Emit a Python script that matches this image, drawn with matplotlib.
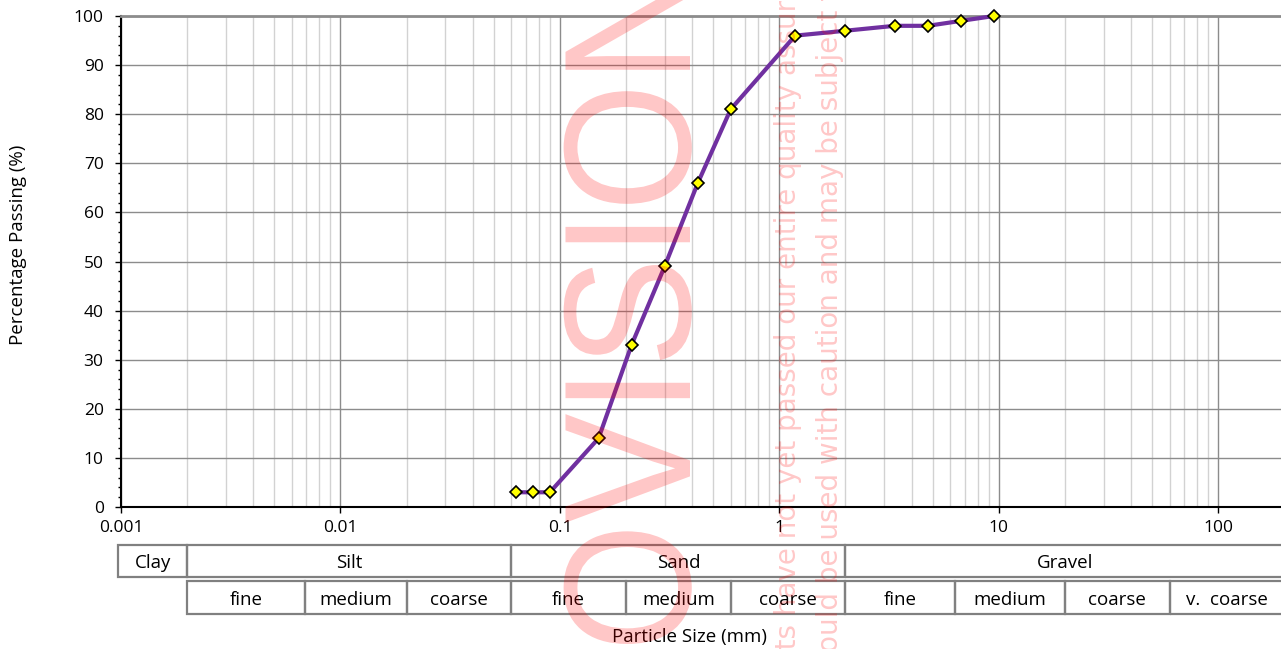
import numpy as np
import matplotlib
matplotlib.use("Agg")
import matplotlib.pyplot as plt
from matplotlib.patches import Rectangle, PathPatch
from matplotlib.textpath import TextPath
from matplotlib.font_manager import FontProperties
from matplotlib.transforms import Affine2D, IdentityTransform
from matplotlib.ticker import FixedLocator, MultipleLocator, LogLocator, NullFormatter

# --- data ---
size_mm = [0.063, 0.075, 0.09, 0.15, 0.212, 0.3, 0.425, 0.6, 1.18, 2.0, 3.35, 4.75, 6.7, 9.5]
passing = [3, 3, 3, 14, 33, 49, 66, 81, 96, 97, 98, 98, 99, 100]

x_ticks = [0.001, 0.01, 0.1, 1, 10, 100]
x_tick_labels = ["0.001", "0.01", "0.1", "1", "10", "100"]

# soil classification bands (mm)
main_edges = [0.00097, 0.002, 0.06, 2, 200]
main_labels = ["Clay", "Silt", "Sand", "Gravel"]
sub_edges = [0.002, 0.0069, 0.02, 0.06, 0.2, 0.6, 2, 6.3, 20, 60, 200]
sub_labels = ["fine", "medium", "coarse", "fine", "medium", "coarse",
              "fine", "medium", "coarse", "v.  coarse"]

FONT = ["Open Sans", "DejaVu Sans"]
plt.rcParams["font.family"] = FONT

W, H = 1281, 649
fig = plt.figure(figsize=(W / 100, H / 100), dpi=100)
ax = fig.add_axes([121 / W, 1 - 507 / H, 1 - 121 / W, (507 - 16) / H])

ax.set_xscale("log")
ax.set_xlim(0.001, 193)
ax.set_ylim(0, 100)

ax.plot(size_mm, passing, color="#7030A0", lw=3, marker="D", ms=6.5,
        mfc="#FFFF00", mec="black", mew=1.2, zorder=5, clip_on=False)

ax.xaxis.set_major_locator(FixedLocator(x_ticks))
ax.set_xticklabels(x_tick_labels)
ax.xaxis.set_minor_locator(LogLocator(base=10, subs=np.arange(2, 10), numticks=20))
ax.xaxis.set_minor_formatter(NullFormatter())
ax.yaxis.set_major_locator(MultipleLocator(10))
ax.yaxis.set_minor_locator(MultipleLocator(2))

ax.grid(which="major", axis="both", color="#8c8c8c", lw=1)
ax.grid(which="minor", axis="x", color="#d2d2d2", lw=1)
ax.set_axisbelow(True)

ax.tick_params(axis="both", which="major", direction="out", length=4.5, width=1,
               labelsize=12.5, color="black")
ax.tick_params(axis="y", which="major", pad=8)
ax.tick_params(axis="x", which="major", pad=5)
ax.tick_params(axis="y", which="minor", direction="out", length=2.5, width=1)
ax.tick_params(axis="x", which="minor", length=0)

for side in ["left", "bottom"]:
    ax.spines[side].set_color("black")
    ax.spines[side].set_linewidth(1.5)
ax.spines["top"].set_color("#8c8c8c")
ax.spines["top"].set_linewidth(2)
ax.spines["right"].set_visible(False)

fig.text(18 / W, 1 - 245 / H, "Percentage Passing (%)", rotation=90,
         ha="center", va="center", fontsize=13.5)
fig.text(690 / W, 1 - 637 / H, "Particle Size (mm)", ha="center", va="center",
         fontsize=13.5)

# classification table under the axis
tax = fig.add_axes([121 / W, 1 - 614 / H, 1 - 121 / W, (614 - 545) / H])
tax.set_xscale("log")
tax.set_xlim(ax.get_xlim())
tax.set_ylim(0, 1)
tax.axis("off")

rows = [(main_edges, main_labels, 0.536, 0.464), (sub_edges, sub_labels, 0.0, 0.478)]
for edges, labels, y0, h in rows:
    for i, lab in enumerate(labels):
        x0, x1 = edges[i], edges[i + 1]
        tax.add_patch(Rectangle((x0, y0), x1 - x0, h, fill=False, ec="#808080",
                                lw=1.6, clip_on=False))
        tax.text(np.sqrt(x0 * x1), y0 + h / 2 - 0.03, lab, ha="center", va="center",
                 fontsize=13.5, clip_on=False)

# provisional watermark on top (slightly condensed outline text)
tp = TextPath((0, 0), "PROVISIONAL", size=1, prop=FontProperties(family="Liberation Sans"))
wm = Affine2D().scale(165, 181).rotate_deg(90).translate(690, -232).transform_path(tp)
fig.add_artist(PathPatch(wm, fc="red", ec="none", alpha=0.22,
                         transform=IdentityTransform(), zorder=10))

fig.text(796 / W, 1 - 809 / H,
         "These results have not yet passed our entire quality assurance process and",
         rotation=90, rotation_mode="anchor", ha="left", va="baseline",
         fontsize=20, color="red", alpha=0.22, family="DejaVu Sans", zorder=10)
fig.text(838 / W, 1 - 684 / H,
         "should be used with caution and may be subject to change",
         rotation=90, rotation_mode="anchor", ha="left", va="baseline",
         fontsize=20, color="red", alpha=0.22, family="DejaVu Sans", zorder=10)

fig.savefig("out.png", dpi=100)
